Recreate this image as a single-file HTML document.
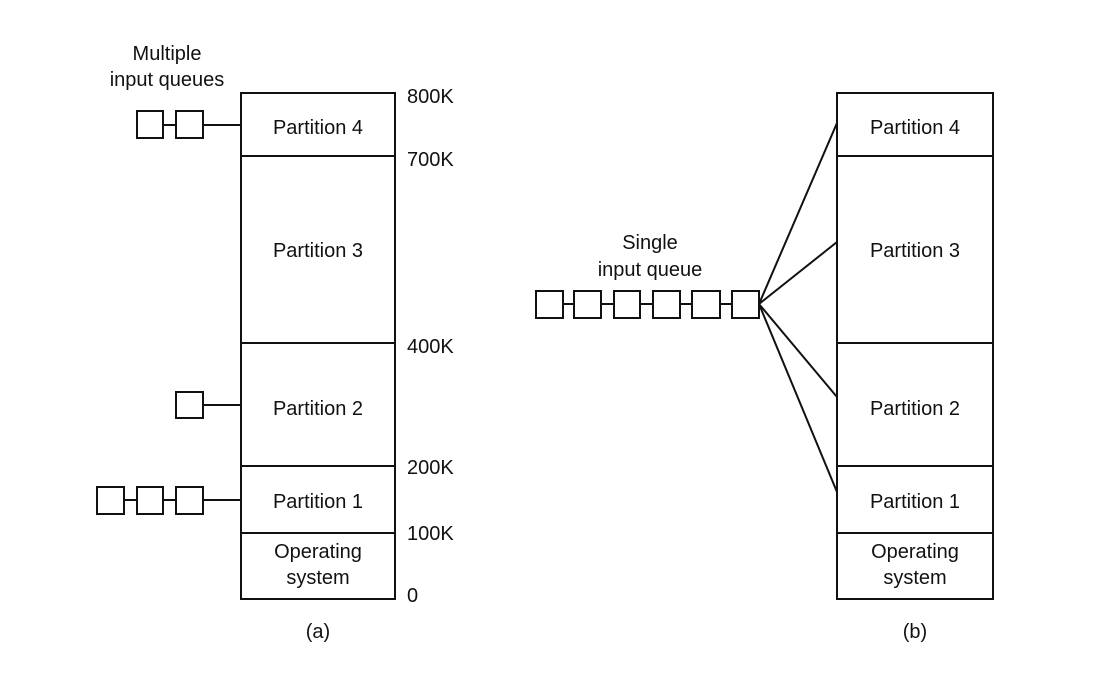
<!DOCTYPE html>
<html><head><meta charset="utf-8"><style>
body{margin:0;background:#fff}
text{font-family:"Liberation Sans",sans-serif;font-size:20px;fill:#111}
</style></head><body>
<svg width="1102" height="668" viewBox="0 0 1102 668" xmlns="http://www.w3.org/2000/svg">
<g stroke="#111" stroke-width="2" fill="none">
<rect x="241" y="93" width="154" height="506"/>
<line x1="241" y1="156" x2="395" y2="156"/>
<line x1="241" y1="343" x2="395" y2="343"/>
<line x1="241" y1="466" x2="395" y2="466"/>
<line x1="241" y1="533" x2="395" y2="533"/>
<rect x="837" y="93" width="156" height="506"/>
<line x1="837" y1="156" x2="993" y2="156"/>
<line x1="837" y1="343" x2="993" y2="343"/>
<line x1="837" y1="466" x2="993" y2="466"/>
<line x1="837" y1="533" x2="993" y2="533"/>
<!-- P4 queue -->
<rect x="137" y="111" width="26" height="27"/><rect x="176" y="111" width="27" height="27"/>
<line x1="163" y1="125" x2="176" y2="125"/><line x1="203" y1="125" x2="241" y2="125"/>
<!-- P2 queue -->
<rect x="176" y="392" width="27" height="26"/>
<line x1="203" y1="405" x2="241" y2="405"/>
<!-- P1 queue -->
<rect x="97" y="487" width="27" height="27"/><rect x="137" y="487" width="26" height="27"/><rect x="176" y="487" width="27" height="27"/>
<line x1="124" y1="500" x2="137" y2="500"/><line x1="163" y1="500" x2="176" y2="500"/><line x1="203" y1="500" x2="241" y2="500"/>
<!-- single queue -->
<rect x="536" y="291" width="27" height="27"/><rect x="574" y="291" width="27" height="27"/><rect x="614" y="291" width="26" height="27"/><rect x="653" y="291" width="27" height="27"/><rect x="692" y="291" width="28" height="27"/><rect x="732" y="291" width="27" height="27"/>
<line x1="563" y1="304" x2="574" y2="304"/><line x1="601" y1="304" x2="614" y2="304"/><line x1="640" y1="304" x2="653" y2="304"/><line x1="680" y1="304" x2="692" y2="304"/><line x1="720" y1="304" x2="732" y2="304"/>
<line x1="759" y1="304" x2="837" y2="123"/>
<line x1="759" y1="304" x2="837" y2="242"/>
<line x1="759" y1="304" x2="837" y2="397"/>
<line x1="759" y1="304" x2="837" y2="492"/>
</g>
<g text-anchor="middle">
<text x="167" y="60">Multiple</text>
<text x="167" y="86">input queues</text>
<text x="318" y="134">Partition 4</text>
<text x="318" y="257">Partition 3</text>
<text x="318" y="415">Partition 2</text>
<text x="318" y="508">Partition 1</text>
<text x="318" y="558">Operating</text>
<text x="318" y="584">system</text>
<text x="318" y="638">(a)</text>
<text x="915" y="134">Partition 4</text>
<text x="915" y="257">Partition 3</text>
<text x="915" y="415">Partition 2</text>
<text x="915" y="508">Partition 1</text>
<text x="915" y="558">Operating</text>
<text x="915" y="584">system</text>
<text x="915" y="638">(b)</text>
<text x="650" y="249">Single</text>
<text x="650" y="276">input queue</text>
</g>
<g>
<text x="407" y="103">800K</text>
<text x="407" y="166">700K</text>
<text x="407" y="353">400K</text>
<text x="407" y="474">200K</text>
<text x="407" y="540">100K</text>
<text x="407" y="602">0</text>
</g>
</svg>
</body></html>
